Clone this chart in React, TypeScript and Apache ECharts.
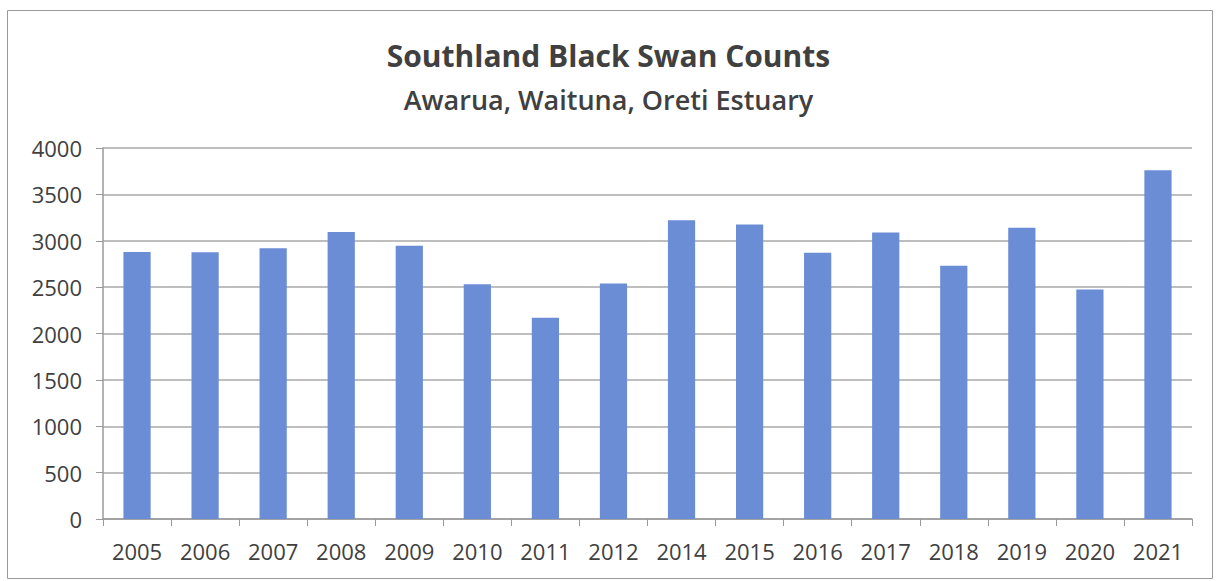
import React, { useEffect, useRef } from "react";
import * as echarts from "echarts";

// Survey years (2013 was not counted)
const years = [
  "2005", "2006", "2007", "2008", "2009", "2010", "2011", "2012",
  "2014", "2015", "2016", "2017", "2018", "2019", "2020", "2021",
];

// Black swan totals per survey year
const swanCounts = [
  2880, 2875, 2920, 3095, 2945, 2530, 2170, 2540,
  3220, 3175, 2870, 3090, 2730, 3140, 2475, 3760,
];

const titleText = "Southland Black Swan Counts";
const subtitleText = "Awarua, Waituna, Oreti Estuary";

const FONT = "'Open Sans', 'Noto Sans', sans-serif";

export default function App() {
  const ref = useRef<HTMLDivElement>(null);

  useEffect(() => {
    if (!ref.current) return;
    const chart = echarts.init(ref.current, undefined, { renderer: "svg" });
    chart.setOption({
      animation: false,
      backgroundColor: "#ffffff",
      title: [
        {
          text: titleText,
          left: "center",
          top: 40,
          padding: 0,
          textStyle: {
            fontFamily: FONT,
            fontSize: 30,
            fontWeight: "bold",
            color: "#404040",
          },
        },
        {
          text: subtitleText,
          left: "center",
          top: 86,
          padding: 0,
          textStyle: {
            fontFamily: FONT,
            fontSize: 27,
            fontWeight: 600,
            color: "#404040",
          },
        },
      ],
      graphic: [
        {
          type: "rect",
          shape: { x: 7.5, y: 10.5, width: 1205, height: 568 },
          style: { fill: "none", stroke: "#9a9a9a", lineWidth: 1 },
          silent: true,
        },
      ],
      grid: { left: 103, right: 25, top: 148, bottom: 62 },
      xAxis: {
        type: "category",
        data: years,
        axisLine: { show: true, lineStyle: { color: "#9a9a9a", width: 1.5 } },
        axisTick: {
          show: true,
          alignWithLabel: false,
          length: 7,
          lineStyle: { color: "#9a9a9a" },
        },
        axisLabel: {
          fontFamily: FONT,
          fontSize: 22,
          color: "#404040",
          margin: 21,
        },
      },
      yAxis: {
        type: "value",
        min: 0,
        max: 4000,
        interval: 500,
        axisLine: { show: true, lineStyle: { color: "#9a9a9a", width: 1.5 } },
        axisTick: { show: true, length: 7, lineStyle: { color: "#9a9a9a" } },
        splitLine: { show: true, lineStyle: { color: "#a8a8a8", width: 1.5 } },
        axisLabel: {
          fontFamily: FONT,
          fontSize: 22,
          color: "#404040",
          margin: 21,
          formatter: (v: number) => String(v),
        },
      },
      series: [
        {
          type: "bar",
          data: swanCounts,
          barWidth: "40%",
          itemStyle: { color: "#6a8dd6" },
        },
      ],
    });
    return () => chart.dispose();
  }, []);

  return (
    <div
      ref={ref}
      style={{ position: "absolute", left: 0, top: 0, width: 1217, height: 581 }}
    />
  );
}
